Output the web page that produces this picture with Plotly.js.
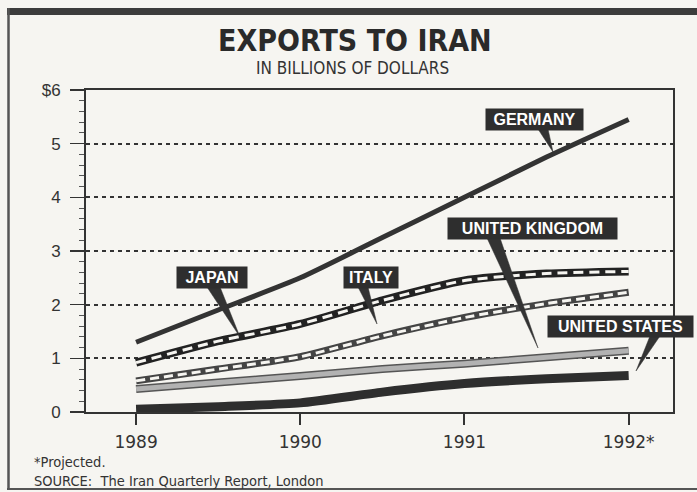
<!DOCTYPE html>
<html><head><meta charset="utf-8">
<script src="https://cdn.plot.ly/plotly-3.0.1.min.js"></script>
<style>html,body{margin:0;padding:0;background:#f6f5f1;}#chart{width:697px;height:492px;}</style>
</head><body><div id="chart"></div>
<script>
// ---- data ----
const years = [1989, 1989.5, 1990, 1990.5, 1991, 1991.5, 1992];
const germany = [1.3, 1.9, 2.5, 3.25, 4.0, 4.75, 5.45];
const japan = [0.92, 1.32, 1.64, 2.08, 2.45, 2.58, 2.62];
const italy = [0.58, 0.8, 1.03, 1.42, 1.76, 2.02, 2.23];
const uk = [0.43, 0.55, 0.67, 0.8, 0.9, 1.02, 1.14];
const us = [0.05, 0.1, 0.17, 0.37, 0.53, 0.62, 0.68];
const tickYears = [1989, 1990, 1991, 1992];
const tickYearLabels = ['1989', '1990', '1991', '1992*'];
const yTicks = [0, 1, 2, 3, 4, 5, 6];
const yTickLabels = ['0', '1', '2', '3', '4', '5', '$6'];
const seriesNames = ['GERMANY', 'JAPAN', 'ITALY', 'UNITED KINGDOM', 'UNITED STATES'];

// ---- layout geometry (pixels) ----
const W = 697, H = 492, L = 86, R = 24, T = 90, B = 80;
const pw = W - L - R, ph = H - T - B;
const px = v => (v - L) / pw;
const py = v => (H - B - v) / ph;
// label box centre, size, and pointer wedge (base x0,x1 at baseY, tip)
const labelGeom = [
  {cx: 534, cy: 119, w: 97, bx0: 538, bx1: 548, by: 129, tx: 553, ty: 152},
  {cx: 212, cy: 277, w: 70, bx0: 207, bx1: 220, by: 287, tx: 240, ty: 337},
  {cx: 371, cy: 277, w: 54, bx0: 358, bx1: 368, by: 287, tx: 377, ty: 324},
  {cx: 532, cy: 228, w: 169, bx0: 487, bx1: 500, by: 238, tx: 538, ty: 348},
  {cx: 620, cy: 326, w: 145, bx0: 650, bx1: 660, by: 336, tx: 636, ty: 371}
];

const BG = '#f6f5f1';
const sp = {shape: 'spline', smoothing: 0.6};
const traces = [
  {x: years, y: us, line: Object.assign({color: '#2e2e2e', width: 9}, sp)},
  {x: years, y: uk, line: Object.assign({color: '#555', width: 8}, sp)},
  {x: years, y: uk, line: Object.assign({color: '#b2b2b2', width: 5}, sp)},
  {x: years, y: italy, line: Object.assign({color: '#444', width: 7}, sp)},
  {x: years, y: italy, line: Object.assign({color: BG, width: 3, dash: '9px,5px'}, sp)},
  {x: years, y: japan, line: Object.assign({color: '#222', width: 8}, sp)},
  {x: years, y: japan, line: Object.assign({color: BG, width: 3, dash: '10px,6px'}, sp)},
  {x: years, y: germany, line: Object.assign({color: '#333', width: 5}, sp)}
];
traces.forEach(t => { t.mode = 'lines'; t.showlegend = false; t.hoverinfo = 'skip'; });

const ann = [
  {xref: 'paper', yref: 'paper', x: px(355), y: py(40), text: 'EXPORTS TO IRAN', showarrow: false,
   font: {family: 'DejaVu Sans Condensed, DejaVu Sans, sans-serif', size: 30, color: '#2a2a2a', weight: 'bold'}, xanchor: 'center', yanchor: 'middle'},
  {xref: 'paper', yref: 'paper', x: px(352), y: py(68), text: 'IN BILLIONS OF DOLLARS', showarrow: false,
   font: {family: 'DejaVu Sans Condensed, DejaVu Sans, sans-serif', size: 17, color: '#333'}, xanchor: 'center', yanchor: 'middle'},
  {xref: 'paper', yref: 'paper', x: px(32), y: py(462), text: '*Projected.', showarrow: false,
   font: {family: 'DejaVu Sans Condensed, DejaVu Sans, sans-serif', size: 14.5, color: '#333'}, xanchor: 'left', yanchor: 'middle'},
  {xref: 'paper', yref: 'paper', x: px(32), y: py(481), text: 'SOURCE:  The Iran Quarterly Report, London', showarrow: false,
   font: {family: 'DejaVu Sans Condensed, DejaVu Sans, sans-serif', size: 14.5, color: '#333'}, xanchor: 'left', yanchor: 'middle'}
];
const shapes = [
  {type: 'rect', xref: 'paper', yref: 'paper', x0: px(7), x1: px(697), y0: py(8), y1: py(15), fillcolor: '#3c3c3c', line: {width: 0}},
  {type: 'line', xref: 'paper', yref: 'paper', x0: px(8.5), x1: px(8.5), y0: py(8), y1: py(489), line: {color: '#555', width: 2.5}},
  {type: 'line', xref: 'paper', yref: 'paper', x0: px(7), x1: px(697), y0: py(489), y1: py(489), line: {color: '#555', width: 2}}
];
seriesNames.forEach((name, i) => {
  const g = labelGeom[i];
  ann.push({xref: 'paper', yref: 'paper', x: px(g.cx), y: py(g.cy), text: name, showarrow: false,
    width: g.w, height: 21, bgcolor: '#2e2e2e', borderpad: 0, xanchor: 'center', yanchor: 'middle',
    font: {family: 'Liberation Sans, Arial, sans-serif', size: 16, color: '#fff', weight: 'bold'}});
  shapes.push({type: 'path', xref: 'paper', yref: 'paper', fillcolor: '#333', line: {width: 0.5, color: '#333'},
    path: `M ${px(g.bx0)},${py(g.by)} L ${px(g.bx1)},${py(g.by)} L ${px(g.tx)},${py(g.ty)} Z`});
});

const layout = {
  width: W, height: H, margin: {l: L, r: R, t: T, b: B},
  paper_bgcolor: BG, plot_bgcolor: BG, showlegend: false,
  xaxis: {range: [1988.695, 1992.27], tickvals: tickYears, ticktext: tickYearLabels,
    ticks: 'outside', ticklen: 11, tickwidth: 2, tickcolor: '#333', ticklabelstandoff: 3,
    showline: true, linecolor: '#333', linewidth: 2, mirror: true, showgrid: false, zeroline: false,
    tickfont: {family: 'DejaVu Sans, sans-serif', size: 17, color: '#333'}},
  yaxis: {range: [0, 6], tickvals: yTicks, ticktext: yTickLabels,
    ticks: 'outside', ticklen: 14, tickwidth: 1.5, tickcolor: '#333', ticklabelstandoff: 6,
    showline: true, linecolor: '#333', linewidth: 2, mirror: true,
    showgrid: true, gridcolor: '#333', gridwidth: 2, griddash: '4px,4px', zeroline: false,
    minor: {dtick: 0.2, ticks: 'outside', ticklen: 5, tickcolor: '#555', tickwidth: 1, showgrid: false},
    tickfont: {family: 'Liberation Sans, Arial, sans-serif', size: 17, color: '#333'}},
  annotations: ann, shapes: shapes
};
Plotly.newPlot('chart', traces, layout, {displayModeBar: false, staticPlot: true});
</script></body></html>
